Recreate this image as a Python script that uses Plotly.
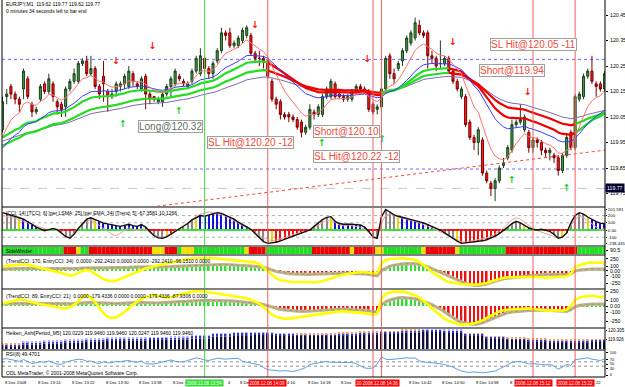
import plotly.graph_objects as go

# ---------------- data ----------------
opens = [120.00,120.13,120.17,120.14,120.12,120.16,120.20,120.10,120.07,120.12,
120.18,120.15,120.18,120.11,120.10,120.09,120.16,120.19,120.19,120.26,
120.27,120.22,120.24,120.17,120.21,120.15,120.13,120.15,120.17,120.18,
120.17,120.22,120.18,120.16,120.21,120.14,120.13,120.11,120.11,120.14,
120.17,120.18,120.21,120.19,120.17,120.19,120.23,120.22,120.28,120.24,
120.22,120.27,120.31,120.38,120.38,120.33,120.33,120.35,120.37,120.37,
120.30,120.28,120.28,120.27,120.19,120.12,120.11,120.06,120.06,120.05,
120.04,120.03,119.99,120.01,120.07,120.06,120.06,120.13,120.13,120.18,
120.14,120.13,120.12,120.12,120.15,120.17,120.16,120.15,120.10,120.08,
120.09,120.16,120.29,120.22,120.24,120.27,120.31,120.34,120.36,120.41,
120.38,120.38,120.29,120.28,120.26,120.26,120.28,120.23,120.19,120.13,
120.13,120.03,119.97,119.95,119.96,119.83,119.79,119.77,119.80,119.86,
119.89,119.92,120.02,120.03,120.00,119.99,119.93,119.96,119.95,119.92,
119.91,119.90,119.89,119.84,119.90,119.99,119.93,120.12,120.13,120.21,
120.23,120.18,120.18,120.16]
highs = [120.13,120.16,120.18,120.15,120.13,120.24,120.21,120.11,120.09,120.18,
120.19,120.22,120.19,120.12,120.11,120.17,120.20,120.24,120.27,120.28,
120.29,120.29,120.25,120.18,120.27,120.16,120.16,120.19,120.19,120.22,
120.25,120.23,120.19,120.21,120.22,120.15,120.13,120.13,120.15,120.18,
120.21,120.24,120.22,120.20,120.19,120.24,120.29,120.32,120.29,120.25,
120.27,120.32,120.40,120.39,120.40,120.35,120.37,120.40,120.41,120.38,
120.31,120.31,120.29,120.28,120.20,120.13,120.12,120.07,120.07,120.06,
120.05,120.04,120.02,120.10,120.08,120.10,120.14,120.17,120.20,120.19,
120.15,120.14,120.14,120.16,120.18,120.18,120.17,120.16,120.11,120.10,
120.17,120.29,120.30,120.24,120.27,120.32,120.37,120.39,120.44,120.43,
120.39,120.39,120.31,120.29,120.35,120.29,120.29,120.24,120.20,120.17,
120.14,120.04,119.98,120.01,119.97,119.84,119.80,119.81,119.86,119.89,
119.94,120.04,120.04,120.10,120.06,120.00,119.97,119.97,119.96,119.93,
119.93,119.91,119.90,119.91,119.98,120.00,120.14,120.15,120.22,120.24,
120.29,120.19,120.19,120.23]
lows = [119.99,120.10,120.12,120.10,120.07,120.12,120.12,120.05,120.06,120.11,
120.14,120.14,120.11,120.06,120.05,120.05,120.15,120.18,120.18,120.25,
120.21,120.21,120.16,120.12,120.11,120.07,120.12,120.13,120.15,120.16,
120.16,120.17,120.16,120.15,120.08,120.10,120.11,120.10,120.09,120.13,
120.13,120.17,120.19,120.17,120.16,120.18,120.22,120.21,120.22,120.20,
120.20,120.26,120.30,120.35,120.32,120.32,120.32,120.34,120.36,120.29,
120.27,120.25,120.24,120.20,120.11,120.08,120.04,120.04,120.03,120.03,
120.00,119.97,119.98,120.00,120.04,120.05,120.05,120.12,120.12,120.12,
120.12,120.11,120.11,120.11,120.14,120.15,120.14,120.07,120.06,120.06,
120.07,120.15,120.20,120.18,120.23,120.25,120.30,120.33,120.35,120.37,
120.36,120.24,120.26,120.23,120.24,120.25,120.22,120.18,120.15,120.12,
120.01,119.96,119.92,119.90,119.82,119.79,119.74,119.72,119.79,119.85,
119.88,119.91,120.01,120.02,119.99,119.91,119.91,119.93,119.90,119.89,
119.88,119.87,119.82,119.83,119.89,119.92,119.92,120.11,120.12,120.20,
120.18,120.13,120.15,120.15]
closes = [120.11,120.14,120.14,120.12,120.10,120.23,120.13,120.07,120.08,120.17,
120.15,120.20,120.13,120.09,120.08,120.16,120.19,120.22,120.26,120.27,
120.22,120.24,120.17,120.14,120.18,120.13,120.14,120.18,120.18,120.21,
120.23,120.19,120.17,120.20,120.14,120.12,120.12,120.12,120.14,120.17,
120.20,120.23,120.20,120.18,120.18,120.23,120.28,120.29,120.24,120.22,
120.26,120.31,120.38,120.37,120.33,120.34,120.36,120.39,120.40,120.30,
120.28,120.28,120.27,120.21,120.12,120.10,120.06,120.05,120.05,120.04,
120.01,119.99,120.01,120.08,120.06,120.09,120.13,120.16,120.19,120.13,
120.13,120.12,120.13,120.15,120.17,120.16,120.15,120.08,120.07,120.09,
120.16,120.28,120.22,120.20,120.26,120.31,120.36,120.38,120.42,120.38,
120.37,120.29,120.28,120.25,120.26,120.28,120.23,120.19,120.16,120.16,
120.02,119.97,119.95,120.00,119.83,119.80,119.77,119.80,119.85,119.87,
119.93,120.02,120.03,120.04,120.05,119.93,119.96,119.95,119.92,119.91,
119.92,119.89,119.84,119.90,119.97,119.93,120.13,120.14,120.21,120.23,
120.19,120.17,120.16,120.22]
N = len(closes)
bars = list(range(N))

# moving averages: (period, starting value read at left edge)
ma_fast = (8, 119.93)
ma_mid = (21, 119.91)
ma_thick_a = (30, 119.96)
ma_thick_b = (45, 119.93)
ma_slow = (60, 119.95)
thick_trend_segments = [(0, 63, "up"), (63, 90, "down"), (90, 106, "up"), (106, 136, "down"), (136, 143, "up")]

# main-pane objects
hline_prices = [120.276, 119.846]
bid_price = 119.77
trend_line_x = [36.7, 143.1]
trend_line_y = [119.70, 119.92]
down_arrow_x = [27.0, 35.7, 60.0, 86.7, 107.0, 124.8]
down_arrow_y = [120.266, 120.325, 120.407, 120.274, 120.340, 120.144]
up_arrow_x = [28.6, 41.9, 75.9, 90.2, 121.0, 134.0]
up_arrow_y = [120.020, 120.070, 119.945, 119.962, 119.800, 119.770]
trade_text = ["Long@120.32", "SL Hit@120.20 -12", "Short@120.10", "SL Hit@120.22 -12", "SL Hit@120.05 -11", "Short@119.94"]
trade_x = [40.0, 59.0, 81.8, 84.0, 126.0, 121.0]
trade_y = [120.013, 119.952, 119.993, 119.895, 120.336, 120.234]
trade_color = ["#5f6f5f", "#f04a3a", "#f04a3a", "#f04a3a", "#f04a3a", "#f04a3a"]

# vertical lines (bar index, colour)
vline_x = [48, 63, 88, 90, 126, 136]
vline_kind = ["green", "red", "red", "red", "red", "red"]
# time labels of the vertical lines as drawn on the time scale (14:34 box lies under the 14:36 box)
vbox_x = [48, 63, 88.95, 126, 136]
vbox_kind = ["green", "red", "red", "red", "red"]
vbox_text = ["2008.12.08 13:54", "2008.12.08 14:09", "20 2008.12.08 14:36", "2008.12.08 15:12", "2008.12.08 15:22"]

# time scale labels (visible parts; the rest is covered by the line-time boxes)
time_label_x = [0, 8, 16, 24, 32, 40, 53.05, 56, 67.2, 72, 80, 96, 104, 112, 120, 140.4]
time_label_text = ["8 Dec 2008", "8 Dec 13:14", "8 Dec 13:22", "8 Dec 13:30", "8 Dec 13:38", "8 Dec 1",
                   "4", "8 Dec", "4:10", "8 Dec 14:18", "8 Dec", "8 Dec 14:42", "8 Dec 14:50",
                   "8 Dec 14:58", "8", "22"]

price_ticks = [120.45, 120.35, 120.25, 120.15, 120.05, 119.95, 119.85, 119.75]

# CCI pane
tcci = [240,225,205,190,170,150,120,80, 40,10,-10,5,20,5,-40,-90, -115,
        -60,20,90,150,170,150,120, 95,80, 70,60,50,60,80,60,50,75,40,
        -20,-80,-110,-115,-95,-60, -20,20,50,90, 140,175,200,190,
        205,225,240,230,205,180,150, 110,80,50, 10,-50,-110,-160,-185,
        -180,-170,-150,-130,-110,-90,-70,-50,-30, 0,50,100,145,175,185,
        120,90, 80,85,80,75,70,40, -20,-100,-115, 180,285,
        250,210,190,175,165,150,140, 125,100,75,50,20,0,
        -40,-80,-120,-155,-185,-180,-175,-170,-160,-150,-135,-115,-85,
        -50,-10,40,90,120, 100,60,30,10,0,10,0,-20, -60,-115,-100,
        -40,100,200,240,220,180,145,115,95,85]
cci14 = [200,190,170,160,140,120,100,80, 50,30,10,0,10,-10,-50,-100,
         -90,-40,30,80,120,140,110,60, 20,-20,-60,-80,-40,0,30,10,-10,20,10,
         -40,-70,-90,-100,-80,-50,-10,20,60,100,
         150,190,220,240,250,240,230,210,190,160,130,100,70,40,
         0,-40,-80,-110,-130,-150,-140,-120,-100,-80,-60,-40,-30,-20,
         10,40,80,110,130,140,100,70,60,70,60,50,40,10,-40,-90,-110,
         100,200,220,200,180,160,140,130,120,100,80,60,30,0,-20,
         -50,-80,-110,-140,-160,-170,-160,-150,-140,-130,-110,-90,-60,-20,30,80,140,170,
         150,110,60,20,-10,-30,-40,-60,-90,-110,-90,-30,60,150,190,170,130,90,40,0,20]
cci_ticks = [285, 195, 100, 0, -100, -190]
cci_tick_text = ["201.591", "200", "100", "0.00", "-100", "-238.435"]

# SideWinder runs
sidewinder_runs = [("G",15),("R",3),("Y",1),("G",2),("R",15),("Y",3),("R",3),("G",1),("Y",3),("G",12),
                   ("Y",1),("R",4),("G",11),("R",9),("Y",1),("R",5),("Y",2),("G",9),("Y",1),("R",7),
                   ("Y",1),("G",11),("R",17),("G",7)]

# TrendCCI panes
trend1 = [40,45,45,50,50,50,55,55,50,50,45,45,50,50,45,40,40,45,55,60,65,65,65,65,
          65,65,60,60,65,70,75,80,80,80,80,75,75,75,80,85,90,95,100,105,110,115,120,125,
          130,130,130,135,135,135,130,130,125,120,115,110,100,90,75,55,
          20,-10,-30,-45,-55,-60,-65,-70,-70,-70,-65,-60,-60,-60,-60,-55,-50,-50,-50,-55,-55,-55,-60,-70,-90,-100,
          10,60,100,120,140,150,155,160,150,140,120,90,50,10,
          -30,-70,-110,-150,-190,-230,-260,-280,-300,-300,-290,-270,-240,-210,-180,-160,-150,-140,-130,-120,-110,
          -100,-90,-80,-75,-70,-70,-70,-70,-75,-80,-60,
          0,20,30,35,40,40,40,40]
entry1 = [100,110,120,130,140,140,130,110,90,70,50,30,
          10,-10,-40,-70,-100,-80,-40,0,20,0,-60,-120,-170,-200,-210,-200,
          -170,-130,-90,-50,-10,20,50,80,100,120,140,150,170,190,210,230,250,260,270,270,270,
          270,265,260,250,240,230,220,210,200,200,190,180,150,
          80,0,-80,-150,-190,-210,-220,-230,-230,-220,-220,-230,-240,-230,
          -210,-180,-150,-120,-100,-80,-60,-40,-30,-20,-20,-30,-50,-40,
          150,230,250,260,265,265,260,250,230,190,130,60,
          -20,-80,-140,-190,-230,-250,-260,-270,-280,-285,-285,-280,-270,-250,-220,-190,
          -160,-140,-130,-130,-130,-140,-140,-130,-120,-120,-130,-140,-140,-130,-120,-120,-110,-60,
          80,120,150,170,175,170,165,170]
trend2 = [40,40,45,45,50,50,50,50,45,45,40,40,40,45,45,40,35,40,50,55,60,60,55,50,
          45,40,40,40,45,50,55,60,60,60,55,50,50,50,55,60,65,70,75,80,85,90,90,95,
          95,95,95,90,90,85,85,80,75,70,65,60,50,40,25,5,
          -20,-40,-55,-65,-75,-80,-85,-90,-90,-85,-80,-75,-70,-65,-60,-55,-50,-50,-55,-60,-60,-65,-70,-80,-95,-100,
          20,70,100,120,135,140,140,130,120,100,80,50,20,-10,
          -50,-100,-150,-200,-240,-270,-290,-300,-305,-300,-280,-250,-220,-190,-160,-130,-110,-100,-90,-85,-80,
          -75,-70,-70,-70,-70,-75,-80,-85,-90,-90,-60,
          -10,10,20,25,30,30,30,30]
entry2 = [40,60,80,100,110,100,80,60,40,30,20,10,
          0,-20,-40,-40,-20,20,80,150,180,140,60,-40,-120,-180,-200,-190,
          -150,-100,-40,20,80,120,150,170,180,170,150,140,150,170,190,210,230,240,250,250,240,
          230,220,200,190,180,170,160,150,140,130,110,80,40,
          -20,-80,-140,-180,-200,-210,-210,-200,-190,-180,-160,-150,-140,-130,
          -120,-110,-100,-90,-90,-90,-100,-100,-110,-110,-120,-130,-140,-130,
          120,200,230,240,245,240,230,210,180,140,90,30,
          -40,-100,-160,-210,-250,-280,-300,-310,-310,-300,-290,-270,-240,-200,-160,-120,
          -90,-70,-60,-60,-50,-50,-40,-40,-50,-60,-70,-80,-80,-70,-70,-80,-60,0,
          100,140,160,170,170,160,150,160]
trend_ticks = [250, 100, 0, -100, -250]
trend_tick_text = ["250", "100", "0.00", "-100", "-250"]

# Heiken Ashi (M5 values, one per 5 bars)
ha_top_m5 = [120.00,120.04,120.06,120.08,120.10,120.12,120.13,120.14,120.15,120.18,120.22,120.24,120.24,120.22,
             120.21,120.21,120.23,120.25,120.26,120.29,120.30,120.29,120.22,120.16,120.13,120.10,120.08,120.08,120.09]
ha_open_m5 = [119.96,119.99,120.01,120.03,120.05,120.07,120.08,120.09,120.10,120.12,120.16,120.19,120.20,120.19,
              120.18,120.18,120.19,120.21,120.22,120.24,120.26,120.25,120.18,120.12,120.09,120.06,120.04,120.04,120.05]
ha_bull_m5 = [0,1,1,1,1,1,1,1,1,1,1,1,1,1,0,0,0,0,0,0,1,1,0,0,0,0,0,0,0]

# RSI(8)
rsi = [72,74,70,66,62,70,60,52,55,60,58,64,56,50,48,58,
       64,68,72,70,62,64,56,52,60,55,56,62,60,64,66,60,
       58,64,52,50,50,54,60,64,68,62,60,60,66,72,78,74,
       68,66,72,76,74,72,74,76,76,62,58,56,52,46,34,24,
       22,20,18,20,18,16,20,28,34,48,52,56,60,62,58,58,
       57,56,58,56,52,40,32,30,32,50,82,72,70,72,74,76,
       78,76,78,64,60,56,56,54,50,48,42,36,26,18,14,12,
       14,12,10,12,14,18,28,36,46,58,60,62,56,50,52,50,
       48,46,48,40,26,36,48,44,70,72,76,78,72,70,66,72]
rsi_ticks = [100, 70, 50, 30, 0]

# ---------------- helpers ----------------
PH = 377.0   # plot-area height in px
FONT = "Liberation Sans"
def dom(top, bot):
    return [1 - bot / PH, 1 - top / PH]
def py(p):
    return 1 - p / PH

def ema(vals, spec):
    period, seed = spec
    a = 2.0 / (period + 1)
    out, e = [], seed
    for v in vals:
        e = e + a * (v - e)
        out.append(e)
    return out

fig = go.Figure()

# ---------------- main pane ----------------
fig.add_trace(go.Candlestick(x=bars, open=opens, high=highs, low=lows, close=closes,
    increasing=dict(line=dict(color="#1f3f1f", width=1), fillcolor="#3d9a3d"),
    decreasing=dict(line=dict(color="#7a0000", width=1), fillcolor="#ff1a1a"),
    whiskerwidth=0, xaxis="x", yaxis="y", showlegend=False, hoverinfo="skip"))

fig.add_trace(go.Scatter(x=trend_line_x, y=trend_line_y, mode="lines",
    line=dict(color="#ff4040", width=1, dash="dot"), xaxis="x", yaxis="y", hoverinfo="skip"))

slow = ema(closes, ma_slow)
fig.add_trace(go.Scatter(x=bars, y=slow, mode="lines", line=dict(color="#7d6aa8", width=1), xaxis="x", yaxis="y"))
ta = ema(closes, ma_thick_a)
tb = ema(closes, ma_thick_b)
for s, e, kind in thick_trend_segments:
    col = "#22dd22" if kind == "up" else "#ee0000"
    for series in (ta, tb):
        fig.add_trace(go.Scatter(x=bars[s:e + 1], y=series[s:e + 1], mode="lines",
            line=dict(color=col, width=2.2), xaxis="x", yaxis="y"))
mid = ema(closes, ma_mid)
fig.add_trace(go.Scatter(x=bars, y=mid, mode="lines", line=dict(color="#3a3aff", width=1), xaxis="x", yaxis="y"))
fast = ema(closes, ma_fast)
fig.add_trace(go.Scatter(x=bars, y=fast, mode="lines", line=dict(color="#ff7070", width=1), xaxis="x", yaxis="y"))

fig.add_trace(go.Scatter(x=down_arrow_x, y=down_arrow_y, mode="text", text=["\u2193"] * len(down_arrow_x),
    textfont=dict(family="DejaVu Sans", size=9.5, color="#ff1010", weight="bold"), xaxis="x", yaxis="y"))
fig.add_trace(go.Scatter(x=up_arrow_x, y=up_arrow_y, mode="text", text=["\u2191"] * len(up_arrow_x),
    textfont=dict(family="DejaVu Sans", size=9.5, color="#22cc22", weight="bold"), xaxis="x", yaxis="y"))

# ---------------- CCI pane ----------------
cci_cols = []
run = 0
for k, v in enumerate(tcci):
    if k > 0 and (v > 0) == (tcci[k - 1] > 0):
        run += 1
    else:
        run = 1
    if run >= 6:
        cci_cols.append("#1414d8" if v > 0 else "#ee1111")
    elif run == 5:
        cci_cols.append("#e8d800")
    else:
        cci_cols.append("#8a8a8a")
fig.add_trace(go.Bar(x=bars, y=tcci, marker=dict(color=cci_cols, line=dict(width=0)), width=0.28,
    xaxis="x", yaxis="y2"))
zero_cols = ["#33dd33" if v > 0 else "#ee1111" for v in tcci]
fig.add_trace(go.Bar(x=bars, y=[24] * N, base=[-12] * N, marker=dict(color=zero_cols, line=dict(width=0)),
    width=1.0, xaxis="x", yaxis="y2"))
fig.add_trace(go.Scatter(x=bars, y=cci14, mode="lines", line=dict(color="#f4a0a0", width=1), xaxis="x", yaxis="y2"))
fig.add_trace(go.Scatter(x=bars, y=tcci, mode="lines", line=dict(color="#111111", width=1.4), xaxis="x", yaxis="y2"))

# ---------------- SideWinder ----------------
sw_map = {"G": "#22dd22", "R": "#ee0000", "Y": "#f0e000"}
sw_cols = []
for c, n in sidewinder_runs:
    sw_cols += [sw_map[c]] * n
fig.add_trace(go.Bar(x=bars, y=[1] * N, marker=dict(color=sw_cols, line=dict(width=0)), width=1.0,
    xaxis="x", yaxis="y3"))

# ---------------- TrendCCI panes ----------------
for hist, entry, ax in ((trend1, entry1, "y4"), (trend2, entry2, "y5")):
    cols = ["#33dd33" if v >= 0 else "#ee1111" for v in hist]
    fig.add_trace(go.Bar(x=bars, y=hist, marker=dict(color=cols, line=dict(width=0)), width=0.4,
        xaxis="x", yaxis=ax))
    fig.add_trace(go.Scatter(x=bars, y=hist, mode="lines", line=dict(color="#c2b488", width=3.2),
        xaxis="x", yaxis=ax))
    fig.add_trace(go.Scatter(x=bars, y=hist, mode="lines", line=dict(color="#9a9a80", width=1, dash="dot"),
        xaxis="x", yaxis=ax))
    fig.add_trace(go.Scatter(x=bars, y=entry, mode="lines", line=dict(color="#ffff00", width=2.6),
        xaxis="x", yaxis=ax))

# ---------------- Heiken Ashi ----------------
HA_BASE = 119.90
ha_top = [ha_top_m5[i // 5] for i in bars]
ha_open = [ha_open_m5[i // 5] for i in bars]
ha_bull = [ha_bull_m5[i // 5] for i in bars]
fig.add_trace(go.Bar(x=bars, y=[o - HA_BASE for o in ha_open], base=[HA_BASE] * N,
    marker=dict(color="#10103a", line=dict(width=0)), width=0.38, xaxis="x", yaxis="y6"))
fig.add_trace(go.Bar(x=bars, y=[t - o for t, o in zip(ha_top, ha_open)], base=ha_open,
    marker=dict(color="#3434c8", line=dict(width=0)), width=0.38, xaxis="x", yaxis="y6"))
fig.add_trace(go.Bar(x=bars, y=[0.012] * N, base=ha_top,
    marker=dict(color=["#b0b0ff" if b else "#f4a060" for b in ha_bull], line=dict(width=0)),
    width=0.38, xaxis="x", yaxis="y6"))

# ---------------- RSI ----------------
fig.add_trace(go.Scatter(x=bars, y=rsi, mode="lines", line=dict(color="#5f9fe0", width=1), xaxis="x", yaxis="y7"))

# ---------------- layout ----------------
def yax(top, bot, rng, tv, tt, fs=5.2, tl=2, so=1):
    return dict(domain=dom(top, bot), range=rng, side="right", anchor="x", tickvals=tv, ticktext=tt,
                tickfont=dict(family=FONT, size=fs, color="black"), showgrid=False, zeroline=False,
                showline=False, ticks="outside", ticklen=tl, tickcolor="black", fixedrange=True,
                ticklabelstandoff=so)

PANES = {"main": (1, 206), "cci": (208, 245), "side": (247, 254), "t1": (256, 288),
         "t2": (290, 327), "ha": (329, 349), "rsi": (351, 377)}

fig.update_layout(
    width=625, height=387, margin=dict(l=2, r=20, t=0, b=10, autoexpand=False),
    paper_bgcolor="white", plot_bgcolor="white", showlegend=False, barmode="overlay",
    font=dict(family=FONT, size=5, color="black"),
    xaxis=dict(domain=[0, 1], range=[-0.12, 143.1], visible=False, rangeslider=dict(visible=False),
               anchor="y7", fixedrange=True),
    yaxis=yax(*PANES["main"], [119.701, 120.505], price_ticks, [f"{p:.2f}" for p in price_ticks]),
    yaxis2=yax(*PANES["cci"], [-208, 305], cci_ticks, cci_tick_text, 4.3, 1, 0),
    yaxis3=yax(*PANES["side"], [0, 1], [0.5], ["90.5"]),
    yaxis4=yax(*PANES["t1"], [-354, 312], trend_ticks, trend_tick_text),
    yaxis5=yax(*PANES["t2"], [-350, 267], trend_ticks, trend_tick_text),
    yaxis6=yax(*PANES["ha"], [HA_BASE, 120.32], [120.28, 120.10], ["120.305", "119.926"], 4.5, 1, 0),
    yaxis7=yax(*PANES["rsi"], [-9, 109], rsi_ticks, [str(v) for v in rsi_ticks], 3.9, 2, 1),
)

shapes = []
for hp in hline_prices:
    shapes.append(dict(type="line", xref="paper", yref="y", x0=0, x1=1, y0=hp, y1=hp,
                       line=dict(color="#6a6aff", width=1, dash="dot"), layer="below"))
shapes.append(dict(type="line", xref="paper", yref="y", x0=0, x1=1, y0=bid_price, y1=bid_price,
                   line=dict(color="#c8c8c8", width=1, dash="dash"), layer="below"))
for lv in (200, 100, -100):
    shapes.append(dict(type="line", xref="paper", yref="y2", x0=0, x1=1, y0=lv, y1=lv,
                       line=dict(color="#b0b0b0", width=1, dash="dot"), layer="below"))
for lv in (60, 40):
    shapes.append(dict(type="line", xref="paper", yref="y7", x0=0, x1=1, y0=lv, y1=lv,
                       line=dict(color="#909090", width=1, dash="dot"), layer="below"))
for vx, kind in zip(vline_x, vline_kind):
    shapes.append(dict(type="line", xref="x", yref="paper", x0=vx, x1=vx, y0=0, y1=1,
                       line=dict(color="#44dd44" if kind == "green" else "#f26060", width=1)))
order = ["main", "cci", "side", "t1", "t2", "ha", "rsi"]
for a, b in zip(order[:-1], order[1:]):
    shapes.append(dict(type="rect", xref="paper", yref="paper", x0=0, x1=1.0,
                       y0=py(PANES[b][0]), y1=py(PANES[a][1]), fillcolor="#808080",
                       line=dict(width=0)))
shapes.append(dict(type="line", xref="paper", yref="paper", x0=1, x1=1, y0=0, y1=1, line=dict(color="black", width=1)))
shapes.append(dict(type="line", xref="paper", yref="paper", x0=0, x1=0, y0=0, y1=1, line=dict(color="black", width=1)))
shapes.append(dict(type="line", xref="paper", yref="paper", x0=0, x1=1, y0=0, y1=0, line=dict(color="black", width=1)))
fig.update_layout(shapes=shapes)

ann = []
def title(text, p):
    ann.append(dict(text=text, xref="paper", yref="paper", x=0.004, y=py(p), xanchor="left", yanchor="middle",
                    showarrow=False, font=dict(family=FONT, size=5, color="black")))
title("EURJPY,M1  119.62 119.77 119.62 119.77", 3.5)
title("0 minutes 34 seconds left to bar end", 10.5)
title("[CCI: 14] [TCCI: 6] [per LSMA: 25] [per EMA: 34] [Trend: 5] -67.3581 10.1266", 212.5)
title("SideWinder", 250.5)
title("(TrendCCI: 170, EntryCCI: 34)  0.0000 -292.2410 0.0000 0.0000 -292.2410 -96.1510 0.0000", 261)
title("(TrendCCI: 89, EntryCCI: 21)  0.0000 -179.4336 0.0000 0.0000 -179.4336 -87.9306 0.0000", 295.5)
title("Heiken_Ashi[Period_M5] 120.0229 119.9460 119.9460 120.0247 119.9460 119.9460", 333)
title("RSI(8) 49.4701", 354)
title("ODL MetaTrader, \u00a9 2001-2008 MetaQuotes Software Corp.", 373)

for t, x, y, c in zip(trade_text, trade_x, trade_y, trade_color):
    ann.append(dict(text=t, x=x, y=y, xref="x", yref="y", showarrow=False,
                    font=dict(family=FONT, size=10, color=c), bgcolor="white",
                    bordercolor="#a0a0a0", borderwidth=1, borderpad=0))
for x, t in zip(time_label_x, time_label_text):
    ann.append(dict(text=t, x=x, y=py(382.5), xref="x", yref="paper", xanchor="left", yanchor="middle",
                    showarrow=False, font=dict(family=FONT, size=4.2, color="black")))
for x, t, kind in zip(vbox_x, vbox_text, vbox_kind):
    ann.append(dict(text=t, x=x, y=py(382.5), xref="x", yref="paper", xanchor="center", yanchor="middle",
                    showarrow=False, font=dict(family=FONT, size=4.5, color="white"),
                    bgcolor="#33dd33" if kind == "green" else "#ff0000", borderpad=0.5))
ann.append(dict(text="119.77", x=1.0, y=bid_price, xref="paper", yref="y", xanchor="left", yanchor="middle",
                showarrow=False, font=dict(family=FONT, size=5.2, color="white"), bgcolor="#000030", borderpad=1))
fig.update_layout(annotations=ann)

fig.write_html("out.html")
